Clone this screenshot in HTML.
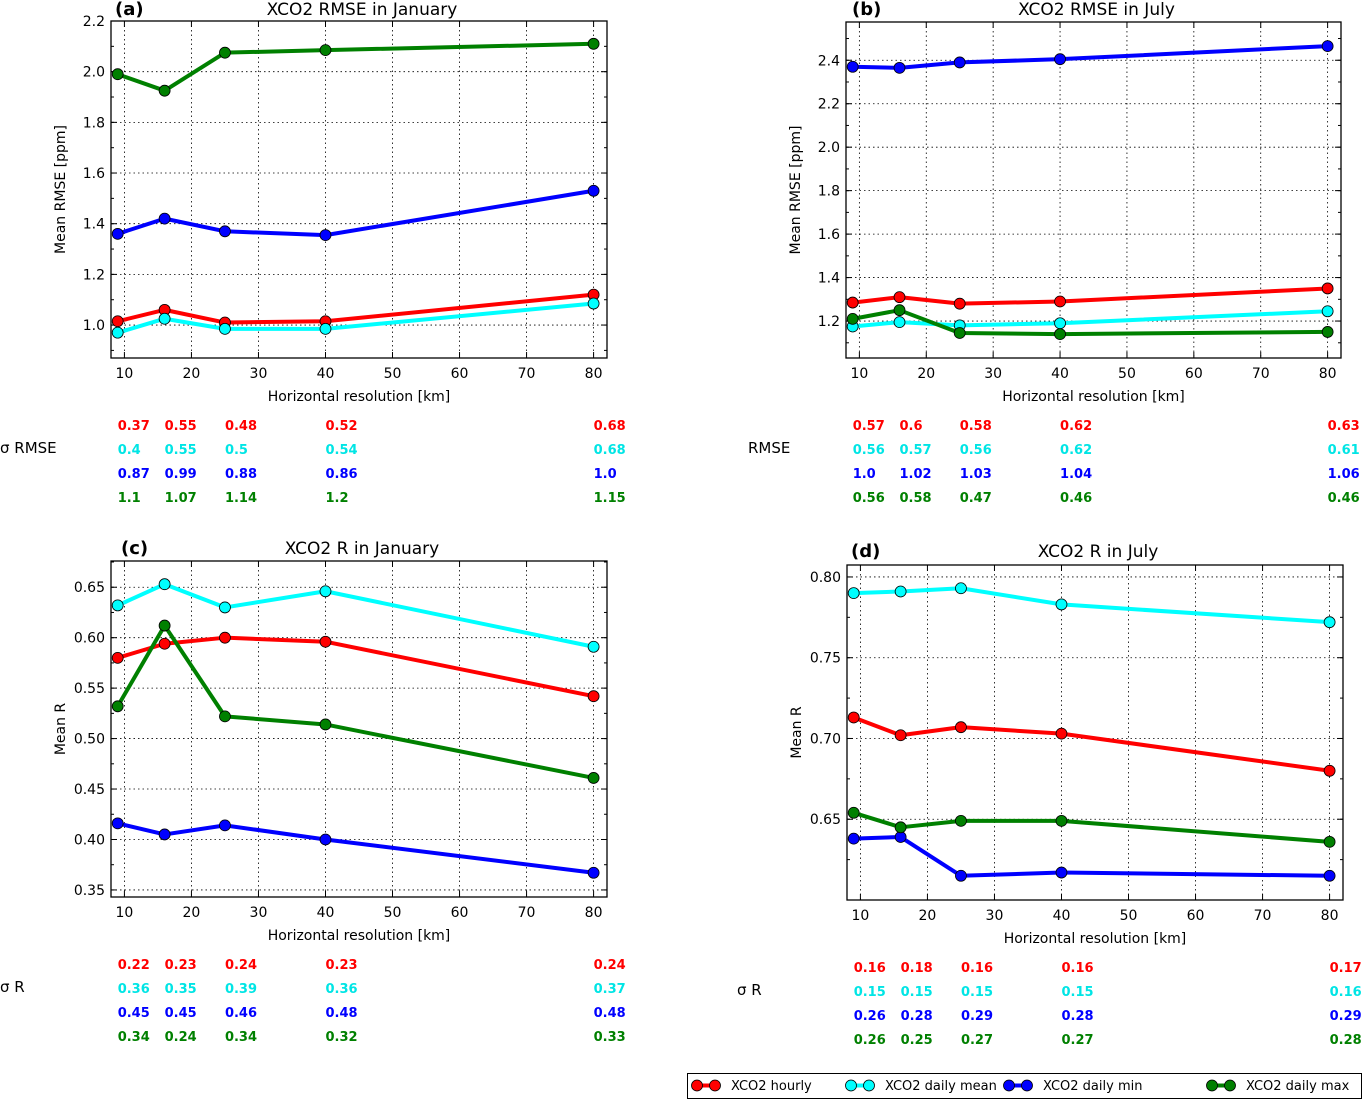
<!DOCTYPE html>
<html><head><meta charset="utf-8">
<style>
html,body{margin:0;padding:0;background:#fff;}
svg{display:block;font-family:"DejaVu Sans","Liberation Sans",sans-serif;}
</style></head>
<body>
<svg id="fig" width="1365" height="1100" viewBox="0 0 1365 1100" xmlns="http://www.w3.org/2000/svg"></svg>
<script>
const resolutions = [9, 16, 25, 40, 80];
const xTicks = [10, 20, 30, 40, 50, 60, 70, 80];
const seriesNames = ["XCO2 hourly", "XCO2 daily mean", "XCO2 daily min", "XCO2 daily max"];
const seriesColors = ["#ff0000", "#00ffff", "#0000ff", "#008000"];
const textColors = ["#ff0000", "#00e5e5", "#0000ff", "#008000"];

const aHourly = [1.015, 1.06, 1.01, 1.015, 1.12];
const aMean = [0.97, 1.025, 0.985, 0.985, 1.085];
const aMin = [1.36, 1.42, 1.37, 1.355, 1.53];
const aMax = [1.99, 1.925, 2.075, 2.085, 2.11];
const aTicks = ["1.0", "1.2", "1.4", "1.6", "1.8", "2.0", "2.2"];
const aStats = [["0.37","0.55","0.48","0.52","0.68"],["0.4","0.55","0.5","0.54","0.68"],["0.87","0.99","0.88","0.86","1.0"],["1.1","1.07","1.14","1.2","1.15"]];

const bHourly = [1.285, 1.31, 1.28, 1.29, 1.35];
const bMean = [1.175, 1.195, 1.18, 1.19, 1.245];
const bMin = [2.37, 2.365, 2.39, 2.405, 2.465];
const bMax = [1.21, 1.25, 1.145, 1.14, 1.15];
const bTicks = ["1.2", "1.4", "1.6", "1.8", "2.0", "2.2", "2.4"];
const bStats = [["0.57","0.6","0.58","0.62","0.63"],["0.56","0.57","0.56","0.62","0.61"],["1.0","1.02","1.03","1.04","1.06"],["0.56","0.58","0.47","0.46","0.46"]];

const cHourly = [0.58, 0.594, 0.600, 0.596, 0.542];
const cMean = [0.632, 0.653, 0.630, 0.646, 0.591];
const cMin = [0.416, 0.405, 0.414, 0.400, 0.367];
const cMax = [0.532, 0.612, 0.522, 0.514, 0.461];
const cTicks = ["0.35", "0.40", "0.45", "0.50", "0.55", "0.60", "0.65"];
const cStats = [["0.22","0.23","0.24","0.23","0.24"],["0.36","0.35","0.39","0.36","0.37"],["0.45","0.45","0.46","0.48","0.48"],["0.34","0.24","0.34","0.32","0.33"]];

const dHourly = [0.713, 0.702, 0.707, 0.703, 0.680];
const dMean = [0.790, 0.791, 0.793, 0.783, 0.772];
const dMin = [0.638, 0.639, 0.615, 0.617, 0.615];
const dMax = [0.654, 0.645, 0.649, 0.649, 0.636];
const dTicks = ["0.65", "0.70", "0.75", "0.80"];
const dStats = [["0.16","0.18","0.16","0.16","0.17"],["0.15","0.15","0.15","0.15","0.16"],["0.26","0.28","0.29","0.28","0.29"],["0.26","0.25","0.27","0.27","0.28"]];

const NS = "http://www.w3.org/2000/svg";
const fig = document.getElementById("fig");
function mk(tag, attrs, parent) {
  const e = document.createElementNS(NS, tag);
  for (const k in attrs) e.setAttribute(k, attrs[k]);
  (parent || fig).appendChild(e);
  return e;
}

function panel(cfg) {
  const g = mk("g", {});
  
  
  const L = cfg.l, R = cfg.r, T = cfg.t, B = cfg.b;
  const sx = v => L + (v - 8) / (82 - 8) * (R - L);
  const sy = v => B - (v - cfg.ymin) / (cfg.ymax - cfg.ymin) * (B - T);
  xTicks.forEach(t => {
    const x = sx(t);
    const gl = mk("line", {x1:x, x2:x, y1:T, y2:B, stroke:"#000", "stroke-width":0.8, "stroke-dasharray":"1.5,3"}, g);
    
    
    mk("line", {x1:x, x2:x, y1:B, y2:B-6, stroke:"#000", "stroke-width":1}, g);
    mk("line", {x1:x, x2:x, y1:T, y2:T+6, stroke:"#000", "stroke-width":1}, g);
    const tl = mk("text", {x:x, y:B+20, "font-size":14, "text-anchor":"middle", fill:"#000"}, g);
    
    
    tl.textContent = t;
  });
  const yv = cfg.ticks.map(Number);
  const step = yv.length > 1 ? yv[1] - yv[0] : 0.05;
  yv.forEach((v, k) => {
    const y = sy(v);
    const gl = mk("line", {x1:L, x2:R, y1:y, y2:y, stroke:"#000", "stroke-width":0.8, "stroke-dasharray":"1.5,3"}, g);
    
    
    mk("line", {x1:L, x2:L+6, y1:y, y2:y, stroke:"#000", "stroke-width":1}, g);
    mk("line", {x1:R, x2:R-6, y1:y, y2:y, stroke:"#000", "stroke-width":1}, g);
    const tl = mk("text", {x:L-6, y:y+5, "font-size":14, "text-anchor":"end", fill:"#000"}, g);
    
    
    tl.textContent = cfg.ticks[k];
  });
  for (let v = yv[0] - step; v <= cfg.ymax + 1e-9; v += step / 2) {
    if (v < cfg.ymin) continue;
    const y = sy(v);
    mk("line", {x1:L, x2:L+3, y1:y, y2:y, stroke:"#000", "stroke-width":1}, g);
    mk("line", {x1:R, x2:R-3, y1:y, y2:y, stroke:"#000", "stroke-width":1}, g);
  }
  cfg.series.forEach((vals, i) => {
    const sg = mk("g", {}, g);
    
    
    const pts = vals.map((v, j) => sx(resolutions[j]) + "," + sy(v)).join(" ");
    mk("polyline", {points:pts, fill:"none", stroke:seriesColors[i], "stroke-width":4, "stroke-linejoin":"round"}, sg);
    vals.forEach((v, j) => {
      const c = mk("circle", {cx:sx(resolutions[j]), cy:sy(v), r:5.5, fill:seriesColors[i], stroke:"#000", "stroke-width":0.8}, sg);
      
      
    });
  });
  const fr = mk("rect", {x:L, y:T, width:R-L, height:B-T, fill:"none", stroke:"#000", "stroke-width":1.3}, g);
  
  
  const tt = mk("text", {x:(L+R)/2 + 3, y:cfg.titleY, "font-size":17, "text-anchor":"middle", fill:"#000"}, g);
  
  
  tt.textContent = cfg.title;
  const lt = mk("text", {x:cfg.letterX, y:cfg.titleY, "font-size":18, fill:"#000", "font-weight":"bold"}, g);
  
  
  lt.textContent = cfg.letter;
  const xl = mk("text", {x:(L+R)/2, y:B+43, "font-size":14, "text-anchor":"middle", fill:"#000"}, g);
  
  
  xl.textContent = "Horizontal resolution [km]";
  const ylx = L - 46, yly = (T + B) / 2;
  const yl = mk("text", {x:ylx, y:yly, "font-size":14, "text-anchor":"middle", fill:"#000", transform:"rotate(-90 " + ylx + " " + yly + ")"}, g);
  
  
  yl.textContent = cfg.ylabel;
  const tg = mk("g", {}, g);
  
  
  const sl = mk("text", {x:cfg.statLabelX, y:cfg.statY + 23, "font-size":15, fill:"#000"}, tg);
  
  
  sl.textContent = cfg.statLabel;
  cfg.stats.forEach((row, i) => {
    row.forEach((s, j) => {
      const t = mk("text", {x:sx(resolutions[j]), y:cfg.statY + i * 24, "font-size":13, "font-weight":"bold", fill:textColors[i]}, tg);
      
      
      t.textContent = s;
    });
  });
}

panel({name:"panel-a", l:111, r:607, t:21, b:358, ymin:0.87, ymax:2.2, ticks:aTicks,
  series:[aHourly, aMean, aMin, aMax], title:"XCO2 RMSE in January", letter:"(a)", letterX:115, titleY:15,
  ylabel:"Mean RMSE [ppm]", stats:aStats, statY:430, statLabelX:0, statLabel:"\u03c3 RMSE"});
panel({name:"panel-b", l:846, r:1341, t:22, b:358, ymin:1.03, ymax:2.576, ticks:bTicks,
  series:[bHourly, bMean, bMin, bMax], title:"XCO2 RMSE in July", letter:"(b)", letterX:852, titleY:15,
  ylabel:"Mean RMSE [ppm]", stats:bStats, statY:430, statLabelX:748, statLabel:"RMSE"});
panel({name:"panel-c", l:111, r:607, t:561, b:897, ymin:0.343, ymax:0.676, ticks:cTicks,
  series:[cHourly, cMean, cMin, cMax], title:"XCO2 R in January", letter:"(c)", letterX:121, titleY:554,
  ylabel:"Mean R", stats:cStats, statY:969, statLabelX:0, statLabel:"\u03c3 R"});
panel({name:"panel-d", l:847, r:1343, t:565, b:900, ymin:0.6, ymax:0.8074, ticks:dTicks,
  series:[dHourly, dMean, dMin, dMax], title:"XCO2 R in July", letter:"(d)", letterX:851, titleY:557,
  ylabel:"Mean R", stats:dStats, statY:972, statLabelX:737, statLabel:"\u03c3 R"});

const lg = mk("g", {});


mk("rect", {x:687.5, y:1073.5, width:674, height:25, fill:"#fff", stroke:"#000", "stroke-width":1}, lg);
const legX = [690, 844, 1002, 1205];
seriesNames.forEach((n, i) => {
  const eg = mk("g", {}, lg);
  
  
  const x0 = legX[i] + 7, x1 = legX[i] + 25;
  mk("line", {x1:x0, x2:x1, y1:1085.5, y2:1085.5, stroke:seriesColors[i], "stroke-width":4}, eg);
  mk("circle", {cx:x0, cy:1085.5, r:5.5, fill:seriesColors[i], stroke:"#000", "stroke-width":0.8}, eg);
  mk("circle", {cx:x1, cy:1085.5, r:5.5, fill:seriesColors[i], stroke:"#000", "stroke-width":0.8}, eg);
  const t = mk("text", {x:legX[i] + 41, y:1090, "font-size":13, fill:"#000"}, eg);
  t.textContent = n;
});
</script>
</body></html>
